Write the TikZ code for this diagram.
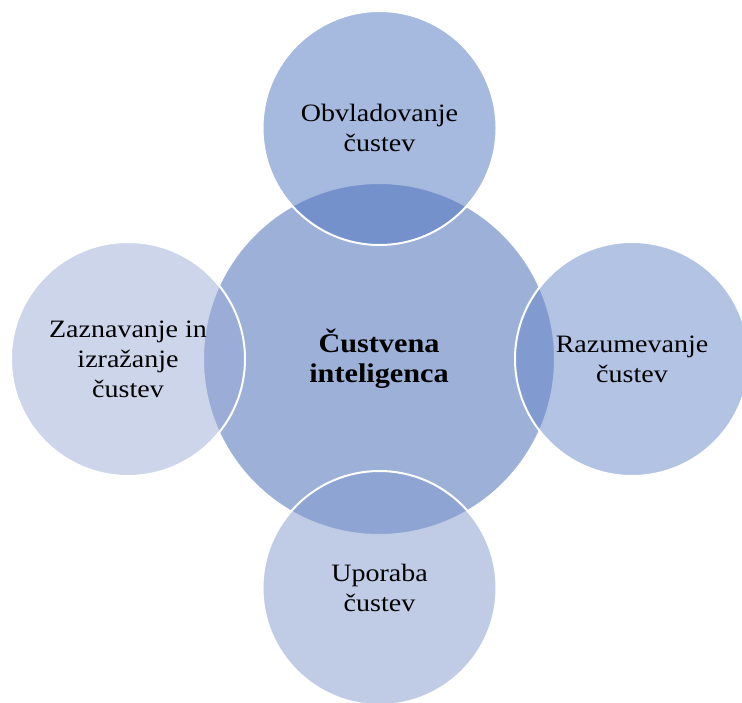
\documentclass[tikz,border=0pt]{standalone}
\usepackage{fontspec}
\setmainfont{Liberation Serif}[FakeStretch=1.12]
\definecolor{centerfill}{HTML}{9DB1D8}
\definecolor{topfill}{HTML}{4D73BF}
\definecolor{rightfill}{HTML}{6787C9}
\definecolor{bottomfill}{HTML}{8199CD}
\definecolor{leftfill}{HTML}{9BABD5}
\tikzset{
  hub/.style={circle, minimum size=352pt, inner sep=0pt, fill=centerfill, draw=white, line width=2pt,
    align=center, font=\fontsize{27}{30}\selectfont\bfseries},
  petal/.style={circle, minimum size=234pt, inner sep=0pt, draw=white, line width=2pt,
    fill opacity=0.5, draw opacity=1, text opacity=1,
    align=center, font=\fontsize{25}{30}\selectfont}
}
\begin{document}
\begin{tikzpicture}[x=1pt,y=-1pt]
\useasboundingbox (0,0) rectangle (742,702);
\node[hub] (hub) at (379,359) {Čustvena\\inteligenca};
\node[petal, fill=topfill] (top) at (379.5,128) {Obvladovanje\\čustev};
\node[petal, fill=rightfill] (right) at (632,359) {Razumevanje\\čustev};
\node[petal, fill=bottomfill] (bottom) at (379.5,588) {Uporaba\\čustev};
\node[petal, fill=leftfill] (left) at (128,359) {Zaznavanje in\\izražanje\\čustev};
\end{tikzpicture}
\end{document}
